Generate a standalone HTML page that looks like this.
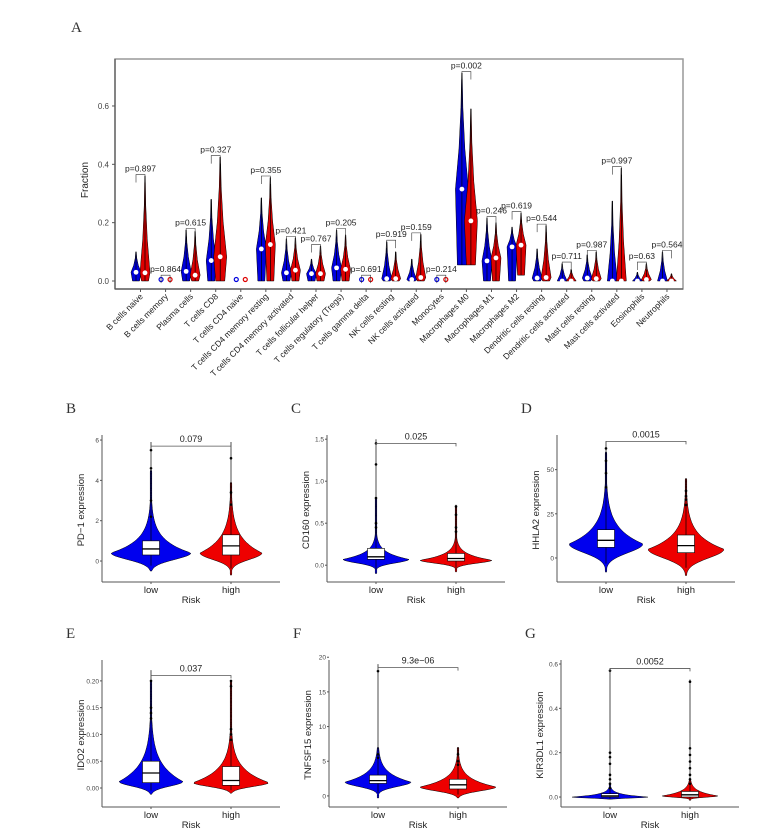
<!DOCTYPE html>
<html><head><meta charset="utf-8">
<style>
html,body{margin:0;padding:0;background:#fff;}
svg{display:block;font-family:"Liberation Sans",sans-serif;}
.pl{font-family:"Liberation Serif",serif;font-size:15px;fill:#333;}
</style></head>
<body>
<svg id="fig" width="782" height="839" viewBox="0 0 782 839" xmlns="http://www.w3.org/2000/svg">
<rect width="782" height="839" fill="#fff"/>
<g id="panelA"></g>
<g id="panels"></g>
</svg>
<script>
// ---------- Panel A data ----------
const cellTypes = ["B cells naive","B cells memory","Plasma cells","T cells CD8","T cells CD4 naive","T cells CD4 memory resting","T cells CD4 memory activated","T cells follicular helper","T cells regulatory (Tregs)","T cells gamma delta","NK cells resting","NK cells activated","Monocytes","Macrophages M0","Macrophages M1","Macrophages M2","Dendritic cells resting","Dendritic cells activated","Mast cells resting","Mast cells activated","Eosinophils","Neutrophils"];
const lowMedian  = [0.03,0,0.033,0.07,0,0.11,0.028,0.025,0.045,0,0.008,0.005,0,0.315,0.069,0.117,0.01,0,0.01,0,0,0];
const highMedian = [0.028,0,0.02,0.083,0,0.125,0.037,0.025,0.04,0,0.008,0.012,0,0.206,0.079,0.123,0.012,0,0.008,0,0.005,0];
const lowMin  = [0,0,0,0,0,0,0,0,0,0,0,0,0,0.055,0,0,0,0,0,0,0,0];
const highMin = [0,0,0,0,0,0,0,0,0,0,0,0,0,0.055,0,0.02,0,0,0,0,0,0];
const lowMax  = [0.1,0.005,0.175,0.28,0,0.285,0.145,0.075,0.175,0.005,0.135,0.075,0.005,0.713,0.216,0.185,0.11,0.06,0.09,0.274,0.03,0.1];
const highMax = [0.36,0.005,0.17,0.425,0,0.355,0.148,0.12,0.158,0.005,0.1,0.16,0.005,0.59,0.2,0.233,0.19,0.04,0.1,0.387,0.06,0.025];
const pValues = ["p=0.897","p=0.864","p=0.615","p=0.327","","p=0.355","p=0.421","p=0.767","p=0.205","p=0.691","p=0.919","p=0.159","p=0.214","p=0.002","p=0.246","p=0.619","p=0.544","p=0.711","p=0.987","p=0.997","p=0.63","p=0.564"];
const yTicksA = [0.0,0.2,0.4,0.6];
const yTickLabelsA = ["0.0","0.2","0.4","0.6"];

const NS="http://www.w3.org/2000/svg";
function mk(tag,attrs,parent){const e=document.createElementNS(NS,tag);for(const k in attrs)e.setAttribute(k,attrs[k]);if(parent)parent.appendChild(e);return e;}

(function(){
  const g=document.getElementById('panelA');
  const L=115,T=59,R=683,B=289;
  const y=v=>281-v*291.7;
  const x=i=>140.5+i*25.07;
  const t=mk('text',{x:71,y:32,class:'pl'},g);t.textContent='A';
  
  
  const fr=mk('rect',{x:L,y:T,width:R-L,height:B-T,fill:'none',stroke:'#999','stroke-width':1.5},g);
  
  
  mk('line',{x1:L,y1:T,x2:L,y2:B,stroke:'#555','stroke-width':1.2},g);
  mk('line',{x1:L,y1:B,x2:R,y2:B,stroke:'#555','stroke-width':1.2},g);
  yTicksA.forEach((v,i)=>{
    mk('line',{x1:L-3,y1:y(v),x2:L,y2:y(v),stroke:'#555'},g);
    const tl=mk('text',{x:L-6,y:y(v)+3,'font-size':8,'text-anchor':'end',fill:'#444'},g);
    tl.textContent=yTickLabelsA[i];
    
    
  });
  const yt=mk('text',{x:0,y:0,'font-size':10,'text-anchor':'middle',fill:'#222',transform:'translate(88,180) rotate(-90)'},g);
  yt.textContent='Fraction';
  
  
  function violin(cx,mn,md,mx,col,name){
    const w=5;
    if(mx<=0.01){
      const c=mk('circle',{cx:cx,cy:y(0)-1.5,r:2,fill:'none',stroke:col,'stroke-width':1.2},g);
      
      
      return;
    }
    const ww = (mx-mn)>0.4?6.5:w;
    const pts=[[mn,ww*0.7],[md,ww],[md+(mx-md)*0.35,ww*0.45],[md+(mx-md)*0.7,ww*0.15],[mx,0.3]];
    let d='M'+pts.map(p=>(cx-p[1])+','+y(p[0])).join(' L');
    d+=' L'+pts.slice().reverse().map(p=>(cx+p[1])+','+y(p[0])).join(' L')+' Z';
    const p=mk('path',{d:d,fill:col,stroke:'#000','stroke-width':0.5},g);
    
    
    mk('line',{x1:cx,y1:y(mn),x2:cx,y2:y(mx),stroke:'#000','stroke-width':0.7},g);
    mk('circle',{cx:cx,cy:y(md),r:2.4,fill:'#fff'},g);
  }
  cellTypes.forEach((c,i)=>{
    const cx=x(i);
    violin(cx-4.5,lowMin[i],lowMedian[i],lowMax[i],'#0000dd','violin-low-'+i);
    violin(cx+4.5,highMin[i],highMedian[i],highMax[i],'#dd0000','violin-high-'+i);
    if(pValues[i]){
      const top=Math.max(lowMax[i],highMax[i],0.015)+0.005;
      const by=y(top);
      mk('path',{d:`M${cx-4.5},${by+8} L${cx-4.5},${by} L${cx+4.5},${by} L${cx+4.5},${by+8}`,fill:'none',stroke:'#333','stroke-width':0.6},g);
      const pt=mk('text',{x:cx,y:by-3,'font-size':8.5,'text-anchor':'middle',fill:'#222'},g);
      pt.textContent=pValues[i];
      
      
    }
    mk('line',{x1:cx,y1:B,x2:cx,y2:B+3,stroke:'#555'},g);
    const xl=mk('text',{x:0,y:0,'font-size':8.5,'text-anchor':'end',fill:'#222',transform:`translate(${cx+3},${B+8}) rotate(-45)`},g);
    xl.textContent=c;
    
    
  });
})();

// ---------- Panels B-G data ----------
const panelLetters = ["B","C","D","E","F","G"];
const panelTitles  = ["PD−1 expression","CD160 expression","HHLA2 expression","IDO2 expression","TNFSF15 expression","KIR3DL1 expression"];
const pvalTexts    = ["0.079","0.025","0.0015","0.037","9.3e−06","0.0052"];
const domainLo = [-1.04,-0.2,-13.6,-0.0355,-1.6,-0.045];
const domainHi = [6.25,1.55,69.6,0.239,19.6,0.618];
const tickVals = [[0,2,4,6],[0,0.5,1,1.5],[0,25,50],[0,0.05,0.1,0.15,0.2],[0,5,10,15,20],[0,0.2,0.4,0.6]];
const tickLabels = [["0","2","4","6"],["0.0","0.5","1.0","1.5"],["0","25","50"],["0.00","0.05","0.10","0.15","0.20"],["0","5","10","15","20"],["0.0","0.2","0.4","0.6"]];
const bracketVal = [5.7,1.45,66,0.21,18.5,0.58];
// violin parameters [low, high]
const vMin  = [[-0.5,-0.7],[-0.1,-0.08],[-8,-10],[-0.012,-0.01],[-0.3,-0.3],[-0.01,-0.015]];
const vMode = [[0.4,0.4],[0.07,0.06],[8,5],[0.012,0.01],[2,1.3],[0,0.005]];
const vMax  = [[4.5,3.9],[0.8,0.7],[60,45],[0.2,0.2],[7,7],[0.06,0.08]];
const vSpreadLow  = [[0.45,0.45],[0.06,0.05],[7,7],[0.012,0.01],[0.9,0.8],[0.006,0.008]];
const vSpreadHigh = [[0.65,0.75],[0.08,0.07],[9,8],[0.032,0.025],[1.3,1.2],[0.012,0.02]];
const vWidth = [[40,31],[33,36],[37,38],[32,38],[33,38],[38,28]];
const boxQ1  = [[0.3,0.3],[0.07,0.05],[6,3],[0.01,0.005],[1.8,1.0],[0,0]];
const boxMed = [[0.6,0.75],[0.1,0.08],[10,7],[0.028,0.014],[2.2,1.6],[0.005,0.01]];
const boxQ3  = [[1.0,1.3],[0.2,0.14],[16,13],[0.05,0.04],[3.0,2.4],[0.015,0.025]];
const whiskMax = [[5.9,5.9],[1.5,0.72],[66,45],[0.22,0.2],[19,7],[0.58,0.53]];
const outliers = [[[2.2,3,4.6,5.5],[2.8,3.4,5.1]],[[0.45,0.5,0.8,1.2,1.45],[0.4,0.45,0.6,0.7]],[[40,48,55,62],[30,33,35,38]],[[0.13,0.14,0.15,0.2],[0.09,0.1,0.11,0.19,0.2]],[[5.5,6,18],[4.5,5,6]],[[0.04,0.06,0.08,0.1,0.15,0.18,0.2,0.57],[0.06,0.08,0.1,0.13,0.16,0.19,0.22,0.52]]];

(function(){
  const g=document.getElementById('panels');
  const lefts=[102,327,557,102,329,561];
  const bottoms=[582,582,582,807,807,807];
  panelLetters.forEach((letter,pi)=>{
    const pg=mk('g',{},g);
    
    
    const L=lefts[pi],Bt=bottoms[pi],T=Bt-147,R=L+178;
    const y=v=>Bt-(v-domainLo[pi])/(domainHi[pi]-domainLo[pi])*147;
    const xs=[L+49,L+129];
    const lt=mk('text',{x:L-36,y:T-22,class:'pl'},pg);lt.textContent=letter;
    
    
    [0,1].forEach(k=>{
      const col=k?'#ee0000':'#0000ee';
      const mn=vMin[pi][k],mo=vMode[pi][k],mx=vMax[pi][k],sL=vSpreadLow[pi][k],sR=vSpreadHigh[pi][k],W=vWidth[pi][k];
      const N=80,pts=[];
      for(let s=0;s<=N;s++){
        const v=mn+(mx-mn)*s/N;
        let w=v<mo?W*Math.exp(-Math.pow((mo-v)/sL,2)):W*Math.exp(-(v-mo)/sR);
        w=Math.max(w,0.8);
        if(s===0)w=0.5;
        if(s===N)w=0.5;
        pts.push([v,w]);
      }
      const cx=xs[k];
      let d='M'+pts.map(p=>(cx-p[1]).toFixed(1)+','+y(p[0]).toFixed(1)).join(' L');
      d+=' L'+pts.slice().reverse().map(p=>(cx+p[1]).toFixed(1)+','+y(p[0]).toFixed(1)).join(' L')+' Z';
      const vp=mk('path',{d:d,fill:col,stroke:'#000','stroke-width':0.5},pg);
      
      
      mk('line',{x1:cx,y1:y(mn+ (mo-mn)*0.3),x2:cx,y2:y(whiskMax[pi][k]),stroke:'#000','stroke-width':0.7},pg);
      outliers[pi][k].forEach(o=>{
        const od=mk('circle',{cx:cx,cy:y(o),r:1.3,fill:'#000'},pg);
        
        
      });
      const bx=mk('rect',{x:cx-8.5,y:y(boxQ3[pi][k]),width:17,height:Math.max(1.5,y(boxQ1[pi][k])-y(boxQ3[pi][k])),fill:'#fff',stroke:'#000','stroke-width':0.6},pg);
      
      
      mk('line',{x1:cx-8.5,y1:y(boxMed[pi][k]),x2:cx+8.5,y2:y(boxMed[pi][k]),stroke:'#000','stroke-width':1.3},pg);
    });
    mk('line',{x1:L,y1:T,x2:L,y2:Bt,stroke:'#555','stroke-width':1},pg);
    mk('line',{x1:L,y1:Bt,x2:R,y2:Bt,stroke:'#555','stroke-width':1},pg);
    tickVals[pi].forEach((v,i)=>{
      mk('line',{x1:L-2,y1:y(v),x2:L,y2:y(v),stroke:'#555'},pg);
      const tl=mk('text',{x:L-3,y:y(v)+2.5,'font-size':6.5,'text-anchor':'end',fill:'#444'},pg);
      tl.textContent=tickLabels[pi][i];
      
      
    });
    ['low','high'].forEach((s,k)=>{
      mk('line',{x1:xs[k],y1:Bt,x2:xs[k],y2:Bt+2,stroke:'#555'},pg);
      const xl=mk('text',{x:xs[k],y:Bt+11,'font-size':9.5,'text-anchor':'middle',fill:'#222'},pg);
      xl.textContent=s;
      
      
    });
    const xt=mk('text',{x:L+89,y:Bt+21,'font-size':9.5,'text-anchor':'middle',fill:'#222'},pg);
    xt.textContent='Risk';
    
    
    const yt=mk('text',{x:0,y:0,'font-size':9.5,'text-anchor':'middle',fill:'#222',transform:`translate(${L-18},${T+75}) rotate(-90)`},pg);
    yt.textContent=panelTitles[pi];
    
    
    const by=y(bracketVal[pi]);
    mk('path',{d:`M${xs[0]},${by+3} L${xs[0]},${by} L${xs[1]},${by} L${xs[1]},${by+3}`,fill:'none',stroke:'#555','stroke-width':0.8},pg);
    const pt=mk('text',{x:(xs[0]+xs[1])/2,y:by-4,'font-size':9,'text-anchor':'middle',fill:'#222'},pg);
    pt.textContent=pvalTexts[pi];
    
    
  });
})();
</script>
</body></html>
